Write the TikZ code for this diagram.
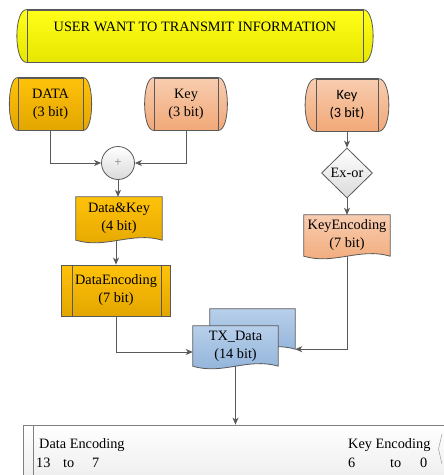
\documentclass[tikz,border=0pt]{standalone}
\usepackage{fontspec}
\setmainfont{Liberation Serif}
\newfontfamily\keyfont{Carlito}
\usetikzlibrary{arrows.meta,shapes.geometric,backgrounds}

\definecolor{linegray}{HTML}{595959}
\definecolor{yeltop}{HTML}{FFFF1A}
\definecolor{yelbot}{HTML}{E6E600}
\definecolor{goldtop}{HTML}{FFC20A}
\definecolor{goldbot}{HTML}{E3A600}
\definecolor{salmtop}{HTML}{F8CDB0}
\definecolor{salmbot}{HTML}{F1A877}
\definecolor{bluetop}{HTML}{B7CFEA}
\definecolor{bluebot}{HTML}{8FB1D9}
\definecolor{greytop}{HTML}{FFFFFF}
\definecolor{greybot}{HTML}{DADADA}

\tikzset{
  txt/.style={inner sep=0pt, align=center, font=\fontsize{14.3}{18}\selectfont},
  edge line/.style={draw=linegray, line width=0.8pt},
  conn/.style={edge line, -{Stealth[length=7pt,width=6pt,inset=2pt]}},
}

\begin{document}
\begin{tikzpicture}[x=1pt,y=-1pt]
  \useasboundingbox (0,0) rectangle (444,475);

  % shapes with text
  \node[txt, edge line, minimum width=336, minimum height=52, text height=21, text depth=31] (user) at (195,36) {USER WANT TO TRANSMIT INFORMATION};
  \node[txt, edge line, minimum width=65, minimum height=52] (data) at (50.5,104) {DATA\\(3 bit)};
  \node[txt, edge line, minimum width=64, minimum height=52] (key) at (186,104) {Key\\(3 bit)};
  \node[txt, edge line, minimum width=62, minimum height=52, font=\keyfont\fontsize{14.3}{18}\selectfont] (keyr) at (347,105) {Key\\(3 bit)};
  \node[circle, edge line, minimum size=33, inner sep=0pt, top color=greytop, bottom color=greybot, text=gray, font=\fontsize{13}{13}\selectfont] (plus) at (118,163) {+};
  \node[txt, minimum width=86, minimum height=43] (datakey) at (119,218.5) {Data\&Key\\(4 bit)};
  \node[txt, edge line, top color=goldtop, bottom color=goldbot, minimum width=109, minimum height=51] (dataenc) at (116,290.5) {DataEncoding\\(7 bit)};
  \node[txt, diamond, edge line, top color=greytop, bottom color=greybot, aspect=1, minimum width=51, minimum height=50] (exor) at (347,173) {Ex-or};
  \node[txt, minimum width=86, minimum height=41] (keyenc) at (347,235.5) {KeyEncoding\\(7 bit)};
  \node[txt, minimum width=85, minimum height=40] (tx) at (235.5,346) {TX\_Data\\(14 bit)};
  \node[edge line, draw=gray, top color=greytop, bottom color=greybot!60, minimum width=440, minimum height=70, inner sep=0pt] (frame) at (243,460) {};
  \coordinate (txb) at ([shift={(17pt,17pt)}]tx.south east);

  % outlines behind the text
  \begin{scope}[on background layer]
    \foreach \n/\w/\ct/\cb in {user/13/yeltop/yelbot, data/11/goldtop/goldbot, key/12/salmtop/salmbot, keyr/14/salmtop/salmbot}
      \path[edge line, top color=\ct, bottom color=\cb]
        (\n.north west) -- (\n.north east) .. controls +(\w,0) and +(\w,0) .. (\n.south east)
        -- (\n.south west) .. controls +(-\w,0) and +(-\w,0) .. (\n.north west) -- cycle;
    \foreach \n/\ct/\cb in {datakey/goldtop/goldbot, keyenc/salmtop/salmbot}
      \path[edge line, top color=\ct, bottom color=\cb] (\n.north west) -- (\n.north east) -- (\n.south east)
        .. controls +(-30,-9) and +(30,9) .. (\n.south west) -- cycle;
    \path[edge line, top color=bluetop, bottom color=bluebot]
      ([shift={(17pt,17pt)}]tx.north west) -- ([shift={(17pt,17pt)}]tx.north east) -- (txb)
      .. controls +(-30,-9) and +(30,9) .. ([shift={(17pt,17pt)}]tx.south west) -- cycle;
    \path[edge line, top color=bluetop, bottom color=bluebot] (tx.north west) -- (tx.north east) -- (tx.south east)
      .. controls +(-30,-9) and +(30,9) .. (tx.south west) -- cycle;
  \end{scope}

  % inner lines
  \draw[edge line] ([xshift=11pt]dataenc.north west) -- ([xshift=11pt]dataenc.south west);
  \draw[edge line] ([xshift=-10pt]dataenc.north east) -- ([xshift=-10pt]dataenc.south east);
  \draw[edge line, draw=gray] ([xshift=11pt]frame.north west) -- ([xshift=11pt]frame.south west);
  \draw[draw=gray!70, line width=0.6pt] (442,434) -- (438.5,449) -- (442,464);

  % frame text
  \node[txt, anchor=base west] (denc) at (39,448) {Data Encoding};
  \node[txt, anchor=base west] (dhi) at (36,467) {13};
  \node[txt, anchor=base west] (dto) at (63,467) {to};
  \node[txt, anchor=base west] (dlo) at (92,467) {7};
  \node[txt, anchor=base west] (kenc) at (348,448) {Key Encoding};
  \node[txt, anchor=base west] (khi) at (348,467) {6};
  \node[txt, anchor=base west] (kto) at (390,467) {to};
  \node[txt, anchor=base west] (klo) at (420,467) {0};

  % connectors
  \draw[conn] (data.south) |- (plus.west);
  \draw[conn] (key.south) |- (plus.east);
  \draw[conn] (plus.south) -- (plus.south |- datakey.north);
  \draw[conn] (dataenc.north |- datakey.south) -- (dataenc.north);
  \draw[conn] (keyr.south) -- (exor.north);
  \draw[conn] (exor.south) -- (keyenc.north);
  \draw[conn] (dataenc.south) |- ([yshift=-6pt]tx.west);
  \draw[conn] (keyenc.south) |- (txb);
  \draw[conn] (tx.south) -- (tx.south |- frame.north);
\end{tikzpicture}
\end{document}
